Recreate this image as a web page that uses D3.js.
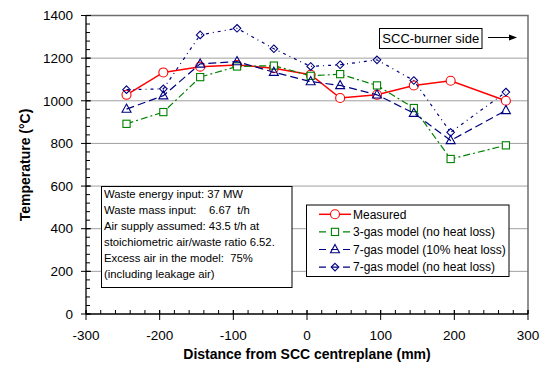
<!DOCTYPE html>
<html>
<head>
<meta charset="utf-8">
<script src="https://cdn.jsdelivr.net/npm/d3@7"></script>
<style>
  html, body { margin: 0; padding: 0; background: #fff; }
  svg { display: block; font-family: "Liberation Sans", Arial, sans-serif; }
  text { white-space: pre; }
</style>
</head>
<body>
<svg id="chart" width="548" height="381"></svg>
<script>
// Traverse positions (mm from the SCC centreplane)
const positions = [-245, -195, -145, -95, -45, 5, 45, 95, 145, 195, 270];

// Temperatures (°C) for each series
const measured       = [1028, 1133, 1160, 1168, 1153, 1122, 1013, 1028, 1072, 1094, 1000];
const threeGas       = [892, 947, 1111, 1161, 1165, 1117, 1125, 1072, 966, 727, 791];
const sevenGasLoss   = [961, 1024, 1173, 1184, 1134, 1090, 1072, 1028, 942, 814, 955];
const sevenGasNoLoss = [1052, 1056, 1309, 1340, 1244, 1161, 1169, 1192, 1095, 852, 1041];

const seriesNames = ["Measured", "3-gas model (no heat loss)", "7-gas model (10% heat loss)", "7-gas model (no heat loss)"];

const xTicks = [-300, -200, -100, 0, 100, 200, 300];
const yTicks = [0, 200, 400, 600, 800, 1000, 1200, 1400];

const infoLines = [
  "Waste energy input: 37 MW",
  "Waste mass input:    6.67  t/h",
  "Air supply assumed: 43.5 t/h at",
  "stoichiometric air/waste ratio 6.52.",
  "Excess air in the model:  75%",
  "(including leakage air)"
];

const svg = d3.select("#chart");
const plotLeft = 86, plotRight = 528, plotTop = 15.5, plotBottom = 314;

const x = d3.scaleLinear().domain([-300, 300]).range([plotLeft, plotRight]);
const y = d3.scaleLinear().domain([0, 1400]).range([plotBottom, plotTop]);

svg.append("rect").attr("width", 548).attr("height", 381).attr("fill", "#fff");

// horizontal gridlines
svg.append("g").selectAll("line").data(yTicks.filter(v => v > 0 && v < 1400)).join("line")
  .attr("x1", plotLeft).attr("x2", plotRight)
  .attr("y1", d => y(d)).attr("y2", d => y(d))
  .attr("stroke", "#a0a0a0").attr("stroke-width", 1);

// top and right frame
svg.append("path")
  .attr("d", `M${plotLeft},${y(1400)}H${plotRight}V${plotBottom}`)
  .attr("fill", "none").attr("stroke", "#6e6e6e").attr("stroke-width", 1.5);

// y axis with minor ticks
const yMinor = d3.range(0, 1401, 40);
const yAxisG = svg.append("g");
yAxisG.append("line").attr("x1", plotLeft).attr("x2", plotLeft).attr("y1", y(0)).attr("y2", y(1400))
  .attr("stroke", "#000").attr("stroke-width", 1.3);
yAxisG.selectAll("line.minor").data(yMinor).join("line").attr("class", "minor")
  .attr("x1", plotLeft).attr("x2", plotLeft + 4).attr("y1", d => y(d)).attr("y2", d => y(d))
  .attr("stroke", "#000").attr("stroke-width", 1);
yAxisG.selectAll("line.major").data(yTicks).join("line").attr("class", "major")
  .attr("x1", plotLeft - 5).attr("x2", plotLeft + 5).attr("y1", d => y(d)).attr("y2", d => y(d))
  .attr("stroke", "#000").attr("stroke-width", 1);
yAxisG.selectAll("text").data(yTicks).join("text")
  .attr("x", plotLeft - 13).attr("y", d => y(d)).attr("dy", "0.35em")
  .attr("text-anchor", "end").attr("font-size", 13.5).attr("fill", "#000")
  .text(d => d);

// x axis with minor ticks
const xMinor = d3.range(-300, 301, 20);
const xAxisG = svg.append("g");
xAxisG.append("line").attr("x1", plotLeft).attr("x2", plotRight).attr("y1", plotBottom).attr("y2", plotBottom)
  .attr("stroke", "#000").attr("stroke-width", 1.3);
xAxisG.selectAll("line.minor").data(xMinor).join("line").attr("class", "minor")
  .attr("x1", d => x(d)).attr("x2", d => x(d)).attr("y1", plotBottom).attr("y2", plotBottom - 4)
  .attr("stroke", "#000").attr("stroke-width", 1);
xAxisG.selectAll("line.major").data(xTicks).join("line").attr("class", "major")
  .attr("x1", d => x(d)).attr("x2", d => x(d)).attr("y1", plotBottom - 4).attr("y2", plotBottom + 6)
  .attr("stroke", "#000").attr("stroke-width", 1);
xAxisG.selectAll("text").data(xTicks).join("text")
  .attr("x", d => x(d)).attr("y", 335).attr("dy", "0.35em")
  .attr("text-anchor", "middle").attr("font-size", 13.5).attr("fill", "#000")
  .text(d => d);

// axis titles
svg.append("text").attr("x", 307).attr("y", 354).attr("dy", "0.35em")
  .attr("text-anchor", "middle").attr("font-size", 14).attr("font-weight", "bold")
  .text("Distance from SCC centreplane (mm)");
svg.append("text").attr("transform", "translate(25,165) rotate(-90)").attr("dy", "0.35em")
  .attr("text-anchor", "middle").attr("font-size", 14).attr("font-weight", "bold")
  .text("Temperature (°C)");

// series styling
const styles = [
  { values: measured,       color: "#ff0000", dash: null,      width: 1.5, marker: "circle" },
  { values: threeGas,       color: "#008000", dash: "7,3,2,3", width: 1.2, marker: "square" },
  { values: sevenGasLoss,   color: "#000080", dash: "8,4",     width: 1.2, marker: "triangle" },
  { values: sevenGasNoLoss, color: "#000080", dash: "3,4,1,4", width: 1.2, marker: "diamond" }
];

function drawMarker(g, kind, cx, cy, color) {
  if (kind === "circle") {
    g.append("circle").attr("cx", cx).attr("cy", cy).attr("r", 4.5)
      .attr("fill", "#fff").attr("stroke", color).attr("stroke-width", 1.1);
  } else if (kind === "square") {
    g.append("rect").attr("x", cx - 3.6).attr("y", cy - 3.6).attr("width", 7.2).attr("height", 7.2)
      .attr("fill", "#fff").attr("stroke", color).attr("stroke-width", 1.1);
  } else if (kind === "triangle") {
    g.append("path").attr("d", `M${cx},${cy - 5}L${cx + 4.5},${cy + 3.2}L${cx - 4.5},${cy + 3.2}Z`)
      .attr("fill", "none").attr("stroke", color).attr("stroke-width", 1.1);
  } else {
    g.append("path").attr("d", `M${cx},${cy - 3.8}L${cx + 3.8},${cy}L${cx},${cy + 3.8}L${cx - 3.8},${cy}Z`)
      .attr("fill", "none").attr("stroke", color).attr("stroke-width", 1.1);
  }
}

// series drawn in legend order: measured at the bottom, model curves over it
const line = d3.line().x(d => x(d[0])).y(d => y(d[1]));
const plotG = svg.append("g");
styles.forEach(s => {
  const pts = positions.map((p, i) => [p, s.values[i]]);
  const g = plotG.append("g");
  g.append("path").attr("d", line(pts)).attr("fill", "none")
    .attr("stroke", s.color).attr("stroke-width", s.width)
    .attr("stroke-dasharray", s.dash);
  pts.forEach(p => drawMarker(g, s.marker, x(p[0]), y(p[1]), s.color));
});

// information box
const info = svg.append("g");
info.append("rect").attr("x", 101.5).attr("y", 186.5).attr("width", 190.5).attr("height", 101)
  .attr("fill", "#fff").attr("stroke", "#000").attr("stroke-width", 1);
info.selectAll("text").data(infoLines).join("text")
  .attr("x", 104).attr("y", (d, i) => 194.5 + i * 16).attr("dy", "0.35em")
  .attr("font-size", 11.3).text(d => d);

// legend
const legend = svg.append("g");
legend.append("rect").attr("x", 306.5).attr("y", 205).attr("width", 202.5).attr("height", 71.5)
  .attr("fill", "#fff").attr("stroke", "#000").attr("stroke-width", 1);
styles.forEach((s, i) => {
  const ly = 214.3 + i * 17.6;
  legend.append("line").attr("x1", 319).attr("x2", 351).attr("y1", ly).attr("y2", ly)
    .attr("stroke", s.color).attr("stroke-width", s.width)
    .attr("stroke-dasharray", s.dash ? "7,5" : null);
  drawMarker(legend, s.marker, 335, ly, s.color);
  legend.append("text").attr("x", 353).attr("y", ly).attr("dy", "0.35em")
    .attr("font-size", 12).text(seriesNames[i]);
});

// burner-side annotation
const ann = svg.append("g");
ann.append("rect").attr("x", 379.5).attr("y", 28.5).attr("width", 102.5).attr("height", 20)
  .attr("fill", "#fff").attr("stroke", "#000").attr("stroke-width", 1);
ann.append("text").attr("x", 430.75).attr("y", 38.5).attr("dy", "0.35em")
  .attr("text-anchor", "middle").attr("font-size", 13).text("SCC-burner side");
ann.append("line").attr("x1", 488).attr("x2", 511).attr("y1", 37.5).attr("y2", 37.5)
  .attr("stroke", "#000").attr("stroke-width", 1);
ann.append("path").attr("d", "M517,37.5L509,34.5L509,40.5Z").attr("fill", "#000");
</script>
</body>
</html>
